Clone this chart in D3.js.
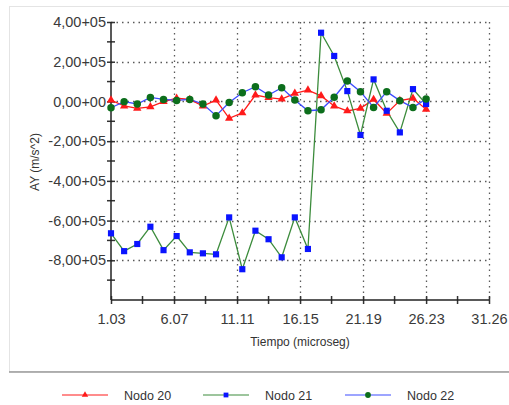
<!DOCTYPE html>
<html>
<head>
<meta charset="utf-8">
<script src="https://cdn.jsdelivr.net/npm/d3@7"></script>
<style>
  body { margin: 0; background: #fff; }
  text { font-family: "Liberation Sans", Arial, sans-serif; }
</style>
</head>
<body>
<div class="container"></div>
<script>
// chart size and plot area
const width = 509;
const height = 405;
const margin = { top: 22, bottom: 105, left: 111, right: 20 };

// time values (microseg)
const tiempo = [1.03, 2.08, 3.13, 4.18, 5.23, 6.28, 7.33, 8.38, 9.43, 10.48, 11.53, 12.58, 13.63,
  14.68, 15.73, 16.78, 17.83, 18.88, 19.93, 20.98, 22.03, 23.08, 24.13, 25.18, 26.23];

// AY values (m/s^2)
const nodo20 = [7000, -23000, -35000, -27000, -1000, 16000, 10000, -23000, 7000, -85000, -58000, 32000, 19000,
  12000, 41000, 57000, 28000, -23000, -48000, -35000, 10000, -60000, 4000, 16000, -40000];
const nodo21 = [-664000, -754000, -718000, -631000, -749000, -678000, -760000, -765000, -770000, -584000, -845000, -651000, -694000,
  -785000, -584000, -743000, 346000, 229000, 52000, -169000, 111000, -47000, -156000, 62000, -13000];
const nodo22 = [-32000, -1000, -13000, 20000, 10000, 5000, 10000, -13000, -72000, -5000, 44000, 74000, 32000,
  69000, 7000, -47000, -42000, 21000, 103000, 49000, -30000, 49000, 4000, -30000, 12000];

// axis ticks and labels
const xTicks = [1.03, 6.07, 11.11, 16.15, 21.19, 26.23, 31.26];
const yTicks = [400000, 200000, 0, -200000, -400000, -600000, -800000];
const yTickLabels = ["4,00+05", "2,00+05", "0,00+00", "-2,00+05", "-4,00+05", "-6,00+05", "-8,00+05"];

const series = [
  { name: "Nodo 20", values: nodo20, line: "#ff1a1a", marker: "#ff1a1a", shape: d3.symbolTriangle, size: 30 },
  { name: "Nodo 21", values: nodo21, line: "#3c8c3c", marker: "#0a14ff", shape: d3.symbolSquare, size: 38 },
  { name: "Nodo 22", values: nodo22, line: "#3c4cff", marker: "#0c6e1c", shape: d3.symbolCircle, size: 44 }
];

const svg = d3.select(".container")
  .append("svg")
  .attr("width", width)
  .attr("height", height);

// frame around the chart
svg.append("rect")
  .attr("x", 9.5).attr("y", 6.5)
  .attr("width", 510).attr("height", 365)
  .attr("fill", "none")
  .attr("stroke", "#e4e4e4");
svg.append("line")
  .attr("x1", 9).attr("x2", 509)
  .attr("y1", 372).attr("y2", 372)
  .attr("stroke", "#9a9a9a")
  .attr("stroke-width", 1.5);

const xScale = d3.scaleLinear()
  .domain([1.03, 31.26])
  .range([margin.left, width - margin.right]);

const yScale = d3.scaleLinear()
  .domain([-1000000, 400000])
  .range([height - margin.bottom, margin.top]);

const x0 = margin.left, x1 = width - margin.right;
const y0 = height - margin.bottom, y1 = margin.top;

// dotted grid
svg.append("g")
  .selectAll("line")
  .data(yTicks)
  .join("line")
  .attr("x1", x0).attr("x2", x1)
  .attr("y1", d => Math.round(yScale(d)) + 0.5)
  .attr("y2", d => Math.round(yScale(d)) + 0.5)
  .attr("stroke", "#5a5a5a")
  .attr("stroke-width", 1.3)
  .attr("stroke-dasharray", "1.5,4");

svg.append("g")
  .selectAll("line")
  .data(xTicks.slice(1))
  .join("line")
  .attr("x1", d => Math.round(xScale(d)) + 0.5)
  .attr("x2", d => Math.round(xScale(d)) + 0.5)
  .attr("y1", y1).attr("y2", y0)
  .attr("stroke", "#5a5a5a")
  .attr("stroke-width", 1.3)
  .attr("stroke-dasharray", "1.5,4");

// y axis with crossing ticks
const yAxis = svg.append("g")
  .attr("transform", `translate(${x0},0)`)
  .call(d3.axisLeft(yScale)
    .tickValues(yTicks)
    .tickSize(4)
    .tickPadding(3)
    .tickFormat((d, i) => yTickLabels[i]));
yAxis.select(".domain").remove();
yAxis.selectAll(".tick line").attr("x2", -4).attr("x1", 4).attr("stroke", "#333").attr("stroke-width", 1.5);
yAxis.selectAll("text").attr("font-size", "14.5px").attr("fill", "#3a3a3a").attr("x", -5);

// minor y ticks
svg.append("g")
  .selectAll("line")
  .data(d3.range(-900000, 400000, 200000))
  .join("line")
  .attr("x1", x0 - 4).attr("x2", x0 + 4)
  .attr("y1", d => yScale(d)).attr("y2", d => yScale(d))
  .attr("stroke", "#333")
  .attr("stroke-width", 1.5);

// x axis
const xAxis = svg.append("g")
  .attr("transform", `translate(0,${y0})`)
  .call(d3.axisBottom(xScale)
    .tickValues(xTicks)
    .tickSize(4)
    .tickPadding(10)
    .tickFormat(d => d.toFixed(2)));
xAxis.select(".domain").remove();
xAxis.selectAll(".tick line").attr("y1", -4).attr("y2", 4).attr("stroke", "#333").attr("stroke-width", 1.5);
xAxis.selectAll("text").attr("font-size", "14.5px").attr("fill", "#3a3a3a");

// minor x ticks
svg.append("g")
  .selectAll("line")
  .data(d3.pairs(xTicks).map(p => (p[0] + p[1]) / 2))
  .join("line")
  .attr("x1", d => xScale(d)).attr("x2", d => xScale(d))
  .attr("y1", y0 - 4).attr("y2", y0 + 4)
  .attr("stroke", "#333")
  .attr("stroke-width", 1.5);

// axis lines
svg.append("line")
  .attr("x1", x0).attr("x2", x0).attr("y1", y1).attr("y2", y0)
  .attr("stroke", "#222").attr("stroke-width", 1.5);
svg.append("line")
  .attr("x1", x0).attr("x2", x1).attr("y1", y0).attr("y2", y0)
  .attr("stroke", "#222").attr("stroke-width", 1.5);

// axis titles
svg.append("text")
  .attr("x", (x0 + x1) / 2)
  .attr("y", 346)
  .attr("text-anchor", "middle")
  .attr("font-size", "12px")
  .attr("fill", "#333")
  .text("Tiempo (microseg)");

svg.append("text")
  .attr("transform", `translate(39,162) rotate(-90)`)
  .attr("text-anchor", "middle")
  .attr("font-size", "12px")
  .attr("fill", "#333")
  .text("AY (m/s^2)");

// series lines
const line = d3.line()
  .x((d, i) => xScale(tiempo[i]))
  .y(d => yScale(d));

series.forEach(s => {
  svg.append("path")
    .datum(s.values)
    .attr("fill", "none")
    .attr("stroke", s.line)
    .attr("stroke-width", 1.3)
    .attr("d", line);
});

// series markers
series.forEach(s => {
  svg.append("g")
    .selectAll("path")
    .data(s.values)
    .join("path")
    .attr("transform", (d, i) => `translate(${xScale(tiempo[i])},${yScale(d)})`)
    .attr("d", d3.symbol(s.shape, s.size))
    .attr("fill", s.marker);
});

// legend
const legendX = [62, 203, 345];
const legend = svg.append("g")
  .selectAll("g")
  .data(series)
  .join("g")
  .attr("transform", (d, i) => `translate(${legendX[i]},395)`);

legend.append("line")
  .attr("x1", 0).attr("x2", 46)
  .attr("stroke", d => d.line)
  .attr("stroke-width", 1.2);

legend.append("path")
  .attr("transform", "translate(23,0)")
  .attr("d", d => d3.symbol(d.shape, d.size * 0.6)())
  .attr("fill", d => d.marker);

legend.append("text")
  .attr("x", 62)
  .attr("y", 4.5)
  .attr("font-size", "12.5px")
  .attr("fill", "#333")
  .text(d => d.name);
</script>
</body>
</html>
